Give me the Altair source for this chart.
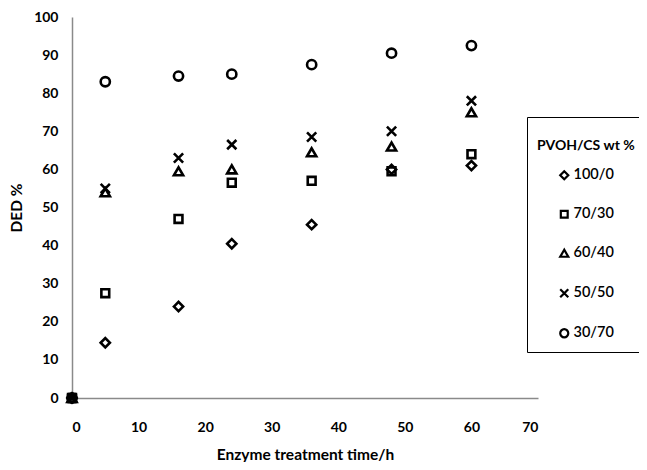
import altair as alt
import pandas as pd

times = [0, 5, 16, 24, 36, 48, 60]
series_names = ["100/0", "70/30", "60/40", "50/50", "30/70"]
ded_100_0 = [0, 14.5, 24.0, 40.5, 45.5, 60.0, 61.0]
ded_70_30 = [0, 27.5, 47.0, 56.5, 57.0, 59.5, 64.0]
ded_60_40 = [0, 54.0, 59.5, 60.0, 64.5, 66.0, 75.0]
ded_50_50 = [0, 55.0, 63.0, 66.5, 68.5, 70.0, 78.0]
ded_30_70 = [0, 83.0, 84.5, 85.0, 87.5, 90.5, 92.5]

values = [ded_100_0, ded_70_30, ded_60_40, ded_50_50, ded_30_70]
rows = []
for name, vals in zip(series_names, values):
    for t, v in zip(times, vals):
        rows.append({"time": t, "ded": v, "series": name})
df = pd.DataFrame(rows)

x_path = "M-1,-1L1,1M-1,1L1,-1"
sq_path = "M-0.85,-0.85H0.85V0.85H-0.85Z"
shapes = ["diamond", sq_path, "triangle-up", x_path, "circle"]

FONT = "Lato"

chart = alt.Chart(df).mark_point(
    filled=False, color="black", strokeWidth=2.6, size=85, opacity=1
).encode(
    x=alt.X("time:Q", title="Enzyme treatment time/h",
            scale=alt.Scale(domain=[0, 70], nice=False, zero=True),
            axis=alt.Axis(values=[0, 10, 20, 30, 40, 50, 60, 70], grid=False, ticks=False,
                          domainColor="#8a8a8a", domainWidth=1.5,
                          labelPadding=22, titlePadding=13)),
    y=alt.Y("ded:Q", title="DED %",
            scale=alt.Scale(domain=[0, 100], nice=False),
            axis=alt.Axis(values=list(range(0, 101, 10)), grid=False, ticks=False,
                          domainColor="#8a8a8a", domainWidth=1.5,
                          labelPadding=14, titlePadding=9)),
    shape=alt.Shape("series:N", title="PVOH/CS wt %",
                    scale=alt.Scale(domain=series_names, range=shapes),
                    sort=series_names,
                    legend=alt.Legend(orient="none", legendX=455, legendY=100,
                                      strokeColor="black", padding=10,
                                      symbolStrokeColor="black", symbolStrokeWidth=2.2,
                                      symbolFillColor="white", symbolSize=65,
                                      symbolOffset=20, labelOffset=2,
                                      rowPadding=22, titlePadding=27,
                                      titleBaseline="line-top", titleLineHeight=38,
                                      fillColor="white")),
).properties(
    width=466, height=381,
    autosize=alt.AutoSizeParams(type="none"),
    padding={"left": 64, "top": 9, "right": 101, "bottom": 64},
).configure_axis(
    labelFont=FONT, labelFontWeight="bold", labelFontSize=14, labelColor="black",
    titleFont=FONT, titleFontWeight="bold", titleFontSize=15.5, titleColor="black",
).configure_legend(
    titleFont=FONT, titleFontWeight="bold", titleFontSize=14, titleColor="black",
    labelFont=FONT, labelFontSize=14.5, labelColor="black", labelFontWeight=600,
).configure_view(stroke=None)

chart.save("out.html", embed_options={"renderer": "svg", "actions": False})
